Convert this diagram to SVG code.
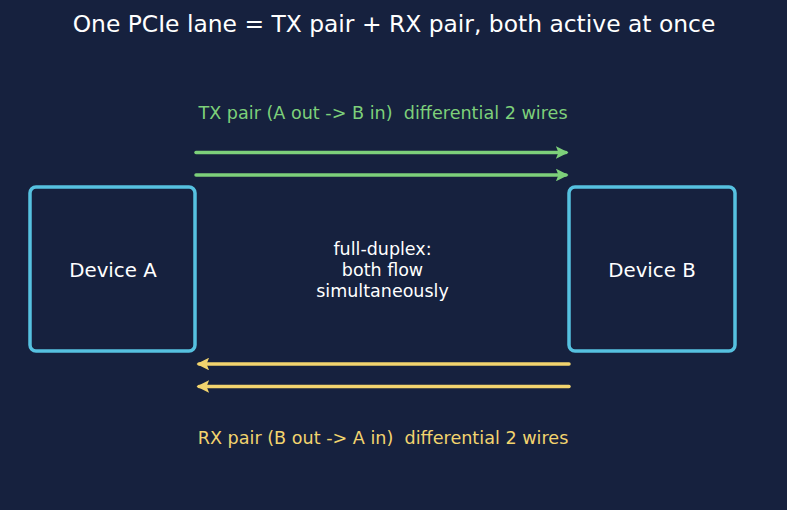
<svg xmlns="http://www.w3.org/2000/svg" width="787" height="510" viewBox="0 0 787 510">
<style>
text{font-family:"DejaVu Sans",Verdana,sans-serif;text-anchor:middle;white-space:pre}
.box{fill:#16213e;stroke:#56c1e0;stroke-width:3.5}
.lbl{fill:#ffffff;font-size:19.8px}
.mid{fill:#ffffff;font-size:17.5px}
.tx{stroke:#7dd07a;stroke-width:3.5;fill:none;stroke-linecap:round}
.rx{stroke:#f2d46e;stroke-width:3.5;fill:none;stroke-linecap:round}
</style>
<defs>
<marker id="ag" viewBox="0 0 10 10" refX="8" refY="5" markerWidth="3.6" markerHeight="3.6" orient="auto" markerUnits="strokeWidth">
<path d="M0,0 L10,5 L0,10 L2,5 Z" fill="#7dd07a"/>
</marker>
<marker id="ay" viewBox="0 0 10 10" refX="8" refY="5" markerWidth="3.6" markerHeight="3.6" orient="auto" markerUnits="strokeWidth">
<path d="M0,0 L10,5 L0,10 L2,5 Z" fill="#f2d46e"/>
</marker>
</defs>
<rect width="787" height="510" fill="#16213e"/>
<text x="394" y="32" fill="#ffffff" font-size="23.4">One PCIe lane = TX pair + RX pair, both active at once</text>
<g id="deviceA">
<rect class="box" x="30" y="187" width="165" height="164" rx="6"/>
<text class="lbl" x="113" y="277">Device A</text>
</g>
<g id="deviceB">
<rect class="box" x="569" y="187" width="166" height="164" rx="6"/>
<text class="lbl" x="652" y="277">Device B</text>
</g>
<g id="connectors">
<line class="tx" x1="196" y1="152.5" x2="566" y2="152.5" marker-end="url(#ag)"/>
<line class="tx" x1="196" y1="175" x2="566" y2="175" marker-end="url(#ag)"/>
<line class="rx" x1="569" y1="364" x2="199" y2="364" marker-end="url(#ay)"/>
<line class="rx" x1="569" y1="386.5" x2="199" y2="386.5" marker-end="url(#ay)"/>
</g>
<text x="383" y="119" fill="#7dd07a" font-size="17.6">TX pair (A out -&gt; B in)  differential 2 wires</text>
<text x="383" y="444" fill="#f2d46e" font-size="17.6">RX pair (B out -&gt; A in)  differential 2 wires</text>
<g id="note">
<text class="mid" x="382.5" y="255">full-duplex:</text>
<text class="mid" x="382.5" y="276">both flow</text>
<text class="mid" x="382.5" y="297">simultaneously</text>
</g>
</svg>
